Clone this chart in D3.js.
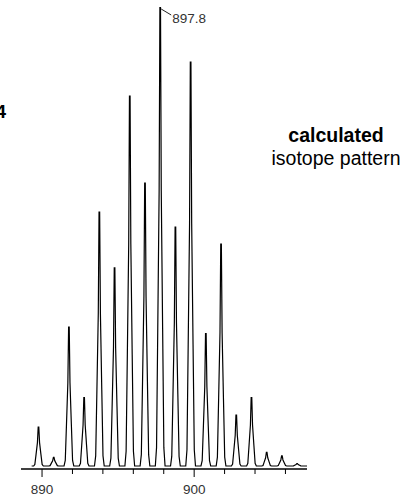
<!DOCTYPE html>
<html>
<head>
<meta charset="utf-8">
<script src="https://cdn.jsdelivr.net/npm/d3@7"></script>
<style>
  html, body { margin: 0; padding: 0; background: #fff; }
  svg { display: block; font-family: "Liberation Sans", Arial, sans-serif; }
</style>
</head>
<body>
<div id="chart"></div>
<script>
///////////////////////////////////////////////////////////////////////////
///////////////////////////////// Data ////////////////////////////////////
///////////////////////////////////////////////////////////////////////////

//peak centres (m/z) and relative intensity (%)
var peakMz = [889.8, 890.8, 891.8, 892.8, 893.8, 894.8, 895.8, 896.8, 897.8,
              898.8, 899.8, 900.8, 901.8, 902.8, 903.8, 904.8, 905.8, 906.8];
var peakIntensity = [8.5, 1.9, 30.3, 14.9, 55.4, 43.2, 80.7, 61.7, 100,
                     52.1, 88.1, 28.9, 48.4, 11.1, 14.9, 3.0, 2.2, 0.5];

//shape of one profile peak (offset in m/z, fraction of height)
var peakShapeOffset = [-0.32, -0.24, -0.16, -0.07, -0.02, 0.02, 0.07, 0.16, 0.24, 0.32];
var peakShapeFraction = [0, 0.04, 0.3, 0.6, 1, 1, 0.6, 0.3, 0.04, 0];

var tickValues = [890, 892, 894, 896, 898, 900, 902, 904, 906];
var tickLabels = [890, 900];

var labelPeak = 897.8;
var sideText = ["calculated", "isotope pattern"];
var cutText = "4";

///////////////////////////////////////////////////////////////////////////
//////////////////// Set up and initiate svg container ////////////////////
///////////////////////////////////////////////////////////////////////////

var width = 408,
    height = 496;

var svg = d3.select("#chart")
    .append("svg")
    .attr("width", width)
    .attr("height", height);

var xScale = d3.scaleLinear()
    .domain([888.65, 907.45])
    .range([21, 307]);

var yScale = d3.scaleLinear()
    .domain([0, 100])
    .range([466, 7.5]);

///////////////////////////////////////////////////////////////////////////
///////////////////////////// Profile line ////////////////////////////////
///////////////////////////////////////////////////////////////////////////

//build the point table the line generator needs
var profile = [{mz: 889.35, y: 0}];
peakMz.forEach(function(m, i) {
    peakShapeOffset.forEach(function(o, j) {
        profile.push({mz: m + o, y: peakIntensity[i] * peakShapeFraction[j]});
    });
});
profile.push({mz: 907.45, y: 0});

var line = d3.line()
    .x(function(d) { return xScale(d.mz); })
    .y(function(d) { return yScale(d.y); });

svg.append("path")
    .datum(profile)
    .attr("d", line)
    .style("fill", "none")
    .style("stroke", "#000")
    .style("stroke-width", 1.2)
    .style("stroke-linejoin", "miter");

///////////////////////////////////////////////////////////////////////////
//////////////////////////////// X axis ///////////////////////////////////
///////////////////////////////////////////////////////////////////////////

var axisY = 469;

var xAxis = d3.axisBottom(xScale)
    .tickValues(tickValues)
    .tickSizeOuter(0)
    .tickFormat(function(d) { return tickLabels.indexOf(d) > -1 ? d : ""; });

var axisG = svg.append("g")
    .attr("class", "axis")
    .attr("transform", "translate(0," + axisY + ")")
    .call(xAxis);

axisG.select(".domain")
    .attr("d", "M" + xScale.range()[0] + ",0H" + xScale.range()[1])
    .style("stroke", "#000")
    .style("stroke-width", 1.6);

axisG.selectAll(".tick line")
    .attr("y2", function(d) { return tickLabels.indexOf(d) > -1 ? 8 : 5; })
    .style("stroke", "#000");

axisG.selectAll(".tick text")
    .attr("y", 15)
    .style("font-family", "'Liberation Sans', Arial, sans-serif")
    .style("font-size", "13.5px")
    .style("fill", "#333");

///////////////////////////////////////////////////////////////////////////
////////////////////////////// Annotations ////////////////////////////////
///////////////////////////////////////////////////////////////////////////

//peak label with its leader
var lx = xScale(labelPeak),
    ly = yScale(100);

svg.append("path")
    .attr("d", "M" + (lx + 1) + "," + (ly + 1.5) + "L" + (lx + 11) + "," + (ly + 7.5))
    .style("stroke", "#222")
    .style("stroke-width", 1)
    .style("fill", "none");

svg.append("text")
    .attr("x", lx + 12)
    .attr("y", ly + 15)
    .style("font-size", "13.5px")
    .style("fill", "#333")
    .text(labelPeak);

svg.append("text")
    .attr("x", 336)
    .attr("y", 142)
    .attr("text-anchor", "middle")
    .style("font-size", "19.5px")
    .style("font-weight", "bold")
    .style("fill", "#000")
    .text(sideText[0]);

svg.append("text")
    .attr("x", 336)
    .attr("y", 165)
    .attr("text-anchor", "middle")
    .style("font-size", "19.5px")
    .style("fill", "#000")
    .text(sideText[1]);

//label cut off at the left edge, as in the source image
svg.append("text")
    .attr("x", 6)
    .attr("y", 118)
    .attr("text-anchor", "end")
    .style("font-size", "19px")
    .style("font-weight", "bold")
    .style("fill", "#000")
    .text(cutText);
</script>
</body>
</html>
